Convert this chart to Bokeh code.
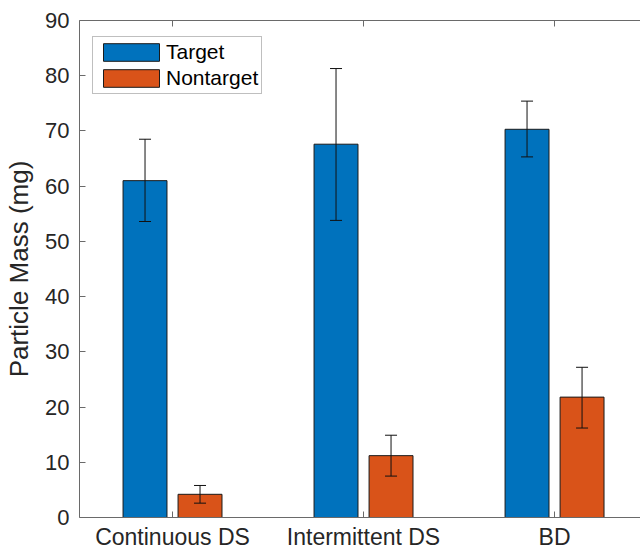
from bokeh.plotting import figure
from bokeh.models import (ColumnDataSource, Range1d, FixedTicker, LinearAxis,
                          Whisker, Legend, LegendItem)
from bokeh.embed import file_html
from bokeh.resources import INLINE

categories = ["Continuous DS", "Intermittent DS", "BD"]
target = [61.0, 67.6, 70.3]
target_low = [53.6, 53.8, 65.3]
target_high = [68.5, 81.3, 75.4]
nontarget = [4.2, 11.2, 21.8]
nontarget_low = [2.6, 7.5, 16.2]
nontarget_high = [5.8, 14.9, 27.2]
y_ticks = [0, 10, 20, 30, 40, 50, 60, 70, 80, 90]

FONT = "Liberation Sans"
TXT = "#262626"
AX = "#6a6a6a"
BLUE = "#0072BD"
ORANGE = "#D95319"

pos = [i + 1 for i in range(len(categories))]
off = 0.144
bw = 0.23

src_t = ColumnDataSource(dict(x=[p_ - off for p_ in pos], top=target,
                              lo=target_low, hi=target_high))
src_n = ColumnDataSource(dict(x=[p_ + off for p_ in pos], top=nontarget,
                              lo=nontarget_low, hi=nontarget_high))

p = figure(width=640, height=552, output_backend="svg", toolbar_location=None,
           x_range=Range1d(0.513, 3.45), y_range=Range1d(0, 90),
           min_border_left=79, min_border_top=20, min_border_bottom=35,
           min_border_right=0, x_axis_location=None, y_axis_location=None)
p.outline_line_color = None
p.xgrid.visible = False
p.ygrid.visible = False
p.background_fill_color = "white"
p.border_fill_color = "white"

r_t = p.vbar(x="x", top="top", width=bw, source=src_t, fill_color=BLUE,
             line_color="#1a1a1a", line_width=1)
r_n = p.vbar(x="x", top="top", width=bw, source=src_n, fill_color=ORANGE,
             line_color="#1a1a1a", line_width=1)

for s in (src_t, src_n):
    w = Whisker(base="x", lower="lo", upper="hi", source=s,
                line_color="#111111", line_width=1, level="overlay")
    w.upper_head.size = 12
    w.lower_head.size = 12
    w.upper_head.line_color = "#111111"
    w.lower_head.line_color = "#111111"
    p.add_layout(w)

xb = LinearAxis(ticker=FixedTicker(ticks=pos),
                major_label_overrides={pos[i]: categories[i] for i in range(len(pos))})
xb.major_tick_in = 6
xb.major_tick_out = 0
xb.minor_tick_line_color = None
xb.axis_line_color = AX
xb.major_tick_line_color = AX
xb.major_label_text_font = FONT
xb.major_label_text_font_size = "23px"
xb.major_label_text_color = TXT
xb.major_label_standoff = 6
p.add_layout(xb, "below")

xt = LinearAxis(ticker=FixedTicker(ticks=pos),
                major_label_overrides={pp: "" for pp in pos})
xt.major_tick_in = 6
xt.major_tick_out = 0
xt.minor_tick_line_color = None
xt.axis_line_color = AX
xt.major_tick_line_color = AX
xt.major_label_text_font_size = "0px"
xt.major_label_standoff = 0
p.add_layout(xt, "above")

yl = LinearAxis(ticker=FixedTicker(ticks=y_ticks), axis_label="Particle Mass (mg)")
yl.major_tick_in = 6
yl.major_tick_out = 0
yl.minor_tick_line_color = None
yl.axis_line_color = AX
yl.major_tick_line_color = AX
yl.major_label_text_font = FONT
yl.major_label_text_font_size = "22px"
yl.major_label_text_color = TXT
yl.major_label_standoff = 10
yl.axis_label_text_font = FONT
yl.axis_label_text_font_size = "26px"
yl.axis_label_text_font_style = "normal"
yl.axis_label_text_color = TXT
yl.axis_label_standoff = 8
p.add_layout(yl, "left")

legend = Legend(items=[LegendItem(label="Target", renderers=[r_t]),
                       LegendItem(label="Nontarget", renderers=[r_n])],
                location=(13, 423))
legend.label_text_font = FONT
legend.label_text_font_size = "21px"
legend.label_text_color = "#000000"
legend.glyph_width = 70
legend.glyph_height = 22
legend.label_standoff = 0
legend.spacing = 2
legend.padding = 3
legend.margin = 0
legend.border_line_color = "#808080"
legend.border_line_width = 1
legend.background_fill_color = "white"
legend.background_fill_alpha = 1
p.add_layout(legend, "center")

open("out.html", "w").write(file_html(p, INLINE))
